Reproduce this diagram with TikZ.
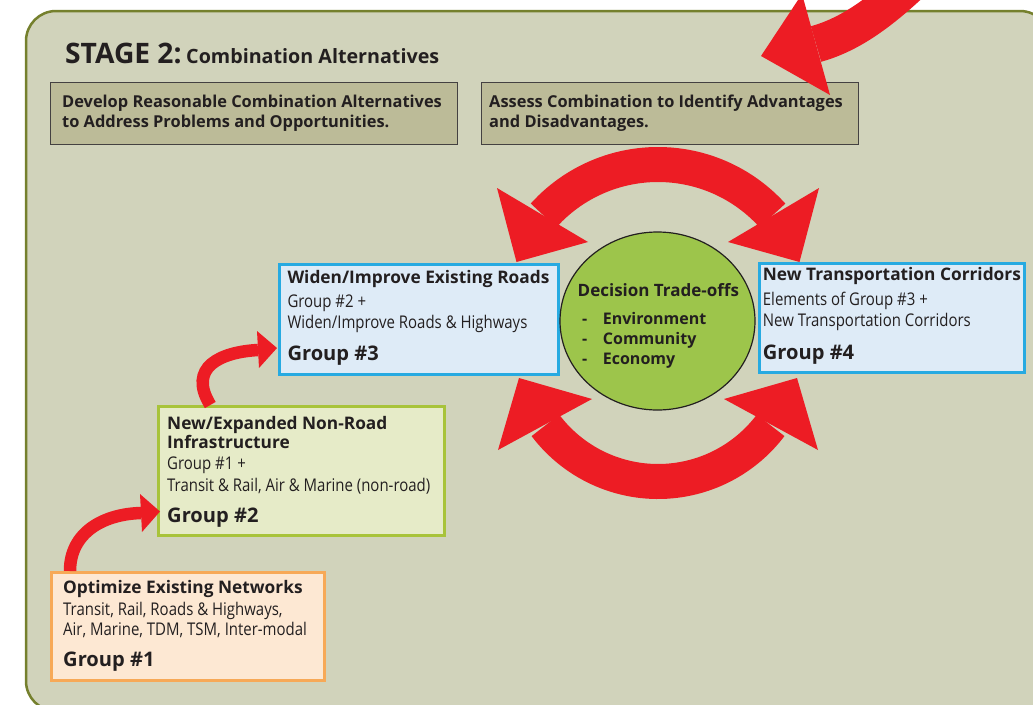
\documentclass[tikz,border=0pt]{standalone}
\usepackage{fontspec}
\setmainfont{Open Sans}
\newfontfamily\condf{Open Sans}[FakeStretch=0.855]
\usetikzlibrary{shapes.geometric}

\definecolor{ink}{RGB}{35,31,32}
\definecolor{panelfill}{RGB}{209,211,187}
\definecolor{paneledge}{RGB}{117,128,45}
\definecolor{khaki}{RGB}{188,187,152}
\definecolor{arrowred}{RGB}{237,28,36}
\definecolor{bluefill}{RGB}{222,235,247}
\definecolor{blueedge}{RGB}{39,170,225}
\definecolor{greenfill}{RGB}{230,235,200}
\definecolor{greenedge}{RGB}{168,195,58}
\definecolor{peachfill}{RGB}{253,232,211}
\definecolor{peachedge}{RGB}{247,169,87}
\definecolor{leaf}{RGB}{157,197,75}

\tikzset{
  panel/.style={fill=panelfill, draw=paneledge, line width=2.5pt, rounded corners=30pt},
  taskbox/.style={rectangle, fill=khaki, draw=ink!85, line width=1.2pt, anchor=north west, inner sep=0pt},
  bluebox/.style={rectangle, fill=bluefill, draw=blueedge, line width=2.6pt, anchor=north west, inner sep=0pt},
  greenbox/.style={rectangle, fill=greenfill, draw=greenedge, line width=2.6pt, anchor=north west, inner sep=0pt},
  peachbox/.style={rectangle, fill=peachfill, draw=peachedge, line width=2.6pt, anchor=north west, inner sep=0pt},
  txt/.style={anchor=base west, inner sep=0pt, text=ink},
  head/.style={txt, font=\fontsize{28.2}{32}\selectfont\bfseries},
  subhead/.style={txt, font=\fontsize{19.7}{22}\selectfont\bfseries},
  task/.style={txt, font=\fontsize{16.4}{19}\selectfont\bfseries},
  ttl/.style={txt, font=\fontsize{17.3}{20}\selectfont\bfseries},
  reg/.style={txt, font=\condf\fontsize{17.5}{20}\selectfont},
  grp/.style={txt, font=\fontsize{20.1}{24}\selectfont\bfseries},
  circttl/.style={txt, font=\fontsize{17}{20}\selectfont\bfseries},
  circtxt/.style={txt, font=\fontsize{16}{19}\selectfont\bfseries},
  band/.style={draw=arrowred, line width=35pt},
  thinband/.style={draw=arrowred, line width=12.5pt},
  tip/.style={fill=arrowred},
}

\begin{document}
\begin{tikzpicture}[x=1pt,y=-1pt]
\clip (0,0) rectangle (1033,704);
\fill[white] (0,0) rectangle (1033,704);

% stage panel
\draw[panel] (26,11) rectangle (1050,711);

% heading
\node[head] (stage) at (65,63) {STAGE 2:};
\node[subhead] (stagename) at (186,63) {Combination Alternatives};

% task boxes
\node[taskbox, minimum width=407pt, minimum height=62pt] (develop) at (50,82) {};
\node[task] (dev1) at (62,107) {Develop Reasonable Combination Alternatives};
\node[task] (dev2) at (62,127.5) {to Address Problems and Opportunities.};

\node[taskbox, minimum width=377pt, minimum height=62pt] (assess) at (481,82) {};
\node[task] (as1) at (489,107) {Assess Combination to Identify Advantages};
\node[task] (as2) at (489,127.5) {and Disadvantages.};

% group 1
\node[peachbox, minimum width=273pt, minimum height=108pt] (g1) at (50,571) {};
\node[ttl] (g1a) at (63,593.3) {Optimize Existing Networks};
\node[reg] (g1b) at (63,615) {Transit, Rail, Roads \& Highways,};
\node[reg] (g1c) at (63,635.7) {Air, Marine, TDM, TSM, Inter-modal};
\node[grp] (g1d) at (63,666.7) {Group \#1};

% group 2
\node[greenbox, minimum width=286pt, minimum height=129pt] (g2) at (157,405) {};
\node[ttl] (g2a) at (167,429) {New/Expanded Non-Road};
\node[ttl] (g2b) at (167,448.3) {Infrastructure};
\node[reg] (g2c) at (167,469.3) {Group \#1 +};
\node[reg] (g2d) at (167,491.7) {Transit \& Rail, Air \& Marine (non-road)};
\node[grp] (g2e) at (167,522.7) {Group \#2};

% group 3
\node[bluebox, minimum width=279pt, minimum height=110pt] (g3) at (278,263) {};
\node[ttl] (g3a) at (287.3,283.3) {Widen/Improve Existing Roads};
\node[reg] (g3b) at (287.3,307.3) {Group \#2 +};
\node[reg] (g3c) at (287.3,328.3) {Widen/Improve Roads \& Highways};
\node[grp] (g3d) at (287.3,360) {Group \#3};

% group 4
\node[bluebox, minimum width=265pt, minimum height=109pt] (g4) at (758,262) {};
\node[ttl] (g4a) at (762.7,280.7) {New Transportation Corridors};
\node[reg] (g4b) at (762.7,305.7) {Elements of Group \#3 +};
\node[reg] (g4c) at (762.7,326) {New Transportation Corridors};
\node[grp] (g4d) at (762.7,359.3) {Group \#4};

% decision ellipse
\node[ellipse, fill=leaf, draw=ink, line width=1.2pt, minimum width=195pt, minimum height=178pt, inner sep=0pt] (trade) at (657.5,321) {};
\node[circttl] (tr0) at (577.5,296) {Decision Trade-offs};
\node[circtxt] (trd1) at (582,324) {-};
\node[circtxt] (tr1) at (602.7,324) {Environment};
\node[circtxt] (trd2) at (582,344) {-};
\node[circtxt] (tr2) at (602.7,344) {Community};
\node[circtxt] (trd3) at (582,364) {-};
\node[circtxt] (tr3) at (602.7,364) {Economy};

% step arrows between groups
\coordinate (s12) at ([xshift=20pt]g1.north west);
\coordinate (e12) at (141,513);
\draw[thinband] (s12) .. controls (70,532) and (104,514) .. (e12);
\fill[tip] (140,494) -- (160,511.5) -- (142,532) -- cycle;

\coordinate (s23) at ([xshift=-91pt]g2.north);
\coordinate (e23) at (258,350);
\draw[thinband] (s23) .. controls (187,367) and (221,352) .. (e23);
\fill[tip] (257,331) -- (277,348) -- (259,368) -- cycle;

% two-way arcs between groups 3 and 4
\draw[band] (658,318.5) ++(-138:154) arc[start angle=-138, end angle=-42, radius=154];
\fill[tip] (497,188) -- (516.5,262) -- (588,242) -- cycle;
\fill[tip] (819,188) -- (799.5,262) -- (728,242) -- cycle;

\draw[band] (658,340.5) ++(143:141) arc[start angle=143, end angle=37, radius=141];
\fill[tip] (498,450) -- (519,378) -- (592,399) -- cycle;
\fill[tip] (818,450) -- (797,378) -- (724,399) -- cycle;

% arrow entering from the previous stage
\coordinate (prevstage) at (930,-35);
\draw[draw=arrowred, line width=37pt] (prevstage) .. controls (885,10) and (852,34) .. (816,44);
\fill[tip] (802,-6) -- (761,56) -- (830,95) -- cycle;
\end{tikzpicture}
\end{document}
